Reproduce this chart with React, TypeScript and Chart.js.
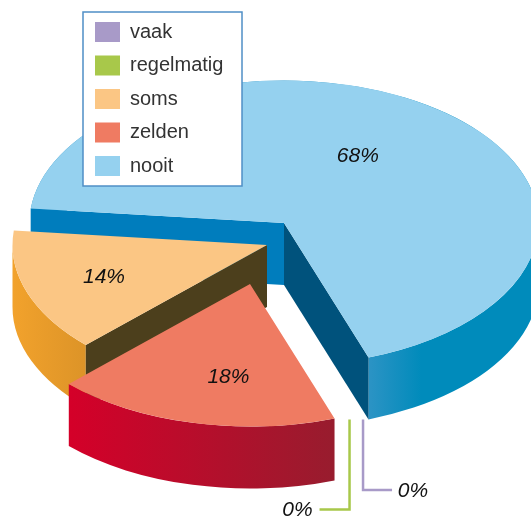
import React, { useEffect, useRef } from "react";
import { Chart, registerables } from "chart.js";

Chart.register(...registerables);

// Data, clockwise on the pie
const categories = ["nooit", "vaak", "regelmatig", "zelden", "soms"];
const percentages = [68, 0, 0, 18, 14];
const legendOrder = ["vaak", "regelmatig", "soms", "zelden", "nooit"];

// Styles, one entry per category
const topColors = ["#95d1ef", "#a89ac8", "#a8c84a", "#ef7b62", "#fbc684"];
const wallStops: (string[][] | null)[] = [
  [["0", "#2a93c4"], ["0.3", "#008bbb"], ["1", "#008bbb"]],
  null,
  null,
  [["0", "#d40029"], ["1", "#981c2e"]],
  [["0", "#f2a22c"], ["1", "#dd9428"]],
];
const startEdgeColor = ["#007dbd", null, null, null, "#4c3f1c"];
const endEdgeColor = ["#00527c", null, null, null, null];
const wallPaintOrder = [0, 4, 3];
const explodeX = [17, 11.5, -2, -17, 0];
const explodeY = [-39.3, -39.3, -39.3, 69.6, 0];
const labelFrac = [0.56, 0, 0, 0.65, 0.675];
const labelTurn = [-7, 0, 0, -5.5, 1];

const TILT = 0.56;
const DEPTH = 62;
const RADIUS = 254.5;
const PIE_X = 267;
const TILT_Y = 100.24;
const CANVAS_W = 531;
const CANVAS_H = 517;
const BOX = { left: 83, top: 12, right: 242, bottom: 186 };
const LEGEND_PADDING = 13.5;

const LABEL_FONT = 'italic 21px "Liberation Sans"';

const sy = (y: number) => TILT_Y + TILT * y;

const piePlugin = {
  id: "tiltedPie",
  afterDatasetsUpdate(chart: any) {
    const arcs = chart.getDatasetMeta(0).data;
    arcs.forEach((arc: any, i: number) => {
      arc.x = PIE_X + explodeX[i];
      arc.y = CANVAS_H / 2 + explodeY[i];
    });
  },
  afterLayout(chart: any) {
    const l = chart.legend;
    l.left = 95 - LEGEND_PADDING;
    l.right = BOX.right;
    l.width = l.right - l.left;
    l.top = 22 - LEGEND_PADDING;
    l.bottom = CANVAS_H;
    l.height = l.bottom - l.top;
  },
  beforeDatasetsDraw(chart: any) {
    const ctx = chart.ctx;
    const arcs = chart.getDatasetMeta(0).data;
    const TAU = Math.PI * 2;
    wallPaintOrder.forEach((i: number) => {
      const arc = arcs[i];
      const cx = arc.x;
      const cy = sy(arc.y);
      const rx = arc.outerRadius;
      const ry = rx * TILT;
      const turns = Math.floor(arc.startAngle / TAU) * TAU;
      const a0 = arc.startAngle - turns;
      const a1 = arc.endAngle - turns;
      const edge = (a: number) => [cx + rx * Math.cos(a), cy + ry * Math.sin(a)];

      // radial faces
      const face = (a: number, colour: string | null) => {
        if (!colour) return;
        const [ex, ey] = edge(a);
        ctx.fillStyle = colour;
        ctx.beginPath();
        ctx.moveTo(cx, cy);
        ctx.lineTo(ex, ey);
        ctx.lineTo(ex, ey + DEPTH);
        ctx.lineTo(cx, cy + DEPTH);
        ctx.closePath();
        ctx.fill();
      };

      // curved rim; a slice crossing the far-left point stops there
      const stops = wallStops[i];
      if (stops) {
        const xs: number[] = [];
        for (let t = 0; t <= 180; t++) {
          const a = (t * Math.PI) / 180;
          const inside = (a >= a0 && a <= a1) || (a + TAU >= a0 && a + TAU <= a1);
          if (inside) xs.push(cx + rx * Math.cos(a));
        }
        const rimEnd = a0 < Math.PI && a1 > Math.PI ? Math.PI : a1;
        const g = ctx.createLinearGradient(Math.min(...xs), 0, Math.max(...xs), 0);
        stops.forEach(([p, c]) => g.addColorStop(+p, c));
        ctx.fillStyle = g;
        ctx.beginPath();
        ctx.ellipse(cx, cy, rx, ry, 0, a0, rimEnd);
        ctx.ellipse(cx, cy + DEPTH, rx, ry, 0, rimEnd, a0, true);
        ctx.closePath();
        ctx.fill();
      }
      face(a0, startEdgeColor[i]);
      face(a1, endEdgeColor[i]);
    });

    ctx.save();
    ctx.translate(0, TILT_Y);
    ctx.scale(1, TILT);
  },
  afterDatasetsDraw(chart: any) {
    chart.ctx.restore();
  },
  afterDraw(chart: any) {
    const ctx = chart.ctx;
    const arcs = chart.getDatasetMeta(0).data;

    // value labels on the slices
    ctx.save();
    ctx.font = LABEL_FONT;
    ctx.fillStyle = "#111111";
    ctx.textAlign = "center";
    ctx.textBaseline = "middle";
    arcs.forEach((arc: any, i: number) => {
      if (arc.circumference === 0) return;
      const mid = (arc.startAngle + arc.endAngle) / 2 + (labelTurn[i] * Math.PI) / 180;
      const r = arc.outerRadius * labelFrac[i];
      ctx.fillText(
        `${percentages[i]}%`,
        arc.x + Math.cos(mid) * r,
        sy(arc.y + Math.sin(mid) * r) + 1.5,
      );
    });

    // leader lines of the empty slices
    const leader = (i: number, drop: number, run: number, textGap: number) => {
      const arc = arcs[i];
      const x = arc.x + arc.outerRadius * Math.cos(arc.startAngle);
      const top = sy(arc.y + arc.outerRadius * Math.sin(arc.startAngle)) + DEPTH;
      ctx.strokeStyle = topColors[i];
      ctx.lineWidth = 2.5;
      ctx.beginPath();
      ctx.moveTo(x, top);
      ctx.lineTo(x, top + drop);
      ctx.lineTo(x + run, top + drop);
      ctx.stroke();
      ctx.fillStyle = "#111111";
      ctx.fillText(`${percentages[i]}%`, x + run + textGap, top + drop + 1);
    };
    leader(1, 70.5, 29, 21);
    leader(2, 90, -30, -22);
    ctx.restore();

    // legend sits on top of the pie
    ctx.save();
    ctx.fillStyle = "#ffffff";
    ctx.fillRect(BOX.left, BOX.top, BOX.right - BOX.left, BOX.bottom - BOX.top);
    ctx.restore();
    chart.legend.draw(chart.chartArea);
    ctx.save();
    ctx.strokeStyle = "#4f8fc6";
    ctx.lineWidth = 1.5;
    ctx.strokeRect(BOX.left, BOX.top, BOX.right - BOX.left, BOX.bottom - BOX.top);
    ctx.restore();
  },
};

export default function App() {
  const ref = useRef<HTMLCanvasElement>(null);
  useEffect(() => {
    const chart = new Chart(ref.current!, {
      type: "pie",
      data: {
        labels: categories,
        datasets: [
          {
            data: percentages,
            backgroundColor: topColors,
            borderWidth: 0,
            radius: RADIUS,
            clip: false,
          } as any,
        ],
      },
      options: {
        responsive: false,
        animation: false,
        events: [],
        rotation: 275.8,
        layout: { padding: 0 },
        plugins: {
          tooltip: { enabled: false },
          legend: {
            display: true,
            position: "left",
            align: "start",
            labels: {
              boxWidth: 25,
              boxHeight: 20,
              padding: LEGEND_PADDING,
              color: "#333333",
              font: { family: "Liberation Sans", size: 20 },
              sort: (a: any, b: any) =>
                legendOrder.indexOf(a.text) - legendOrder.indexOf(b.text),
            },
          },
        },
      },
      plugins: [piePlugin],
    } as any);
    return () => chart.destroy();
  }, []);
  return (
    <canvas
      ref={ref}
      width={CANVAS_W}
      height={CANVAS_H}
      style={{ position: "absolute", left: 0, top: 0, display: "block" }}
    />
  );
}
